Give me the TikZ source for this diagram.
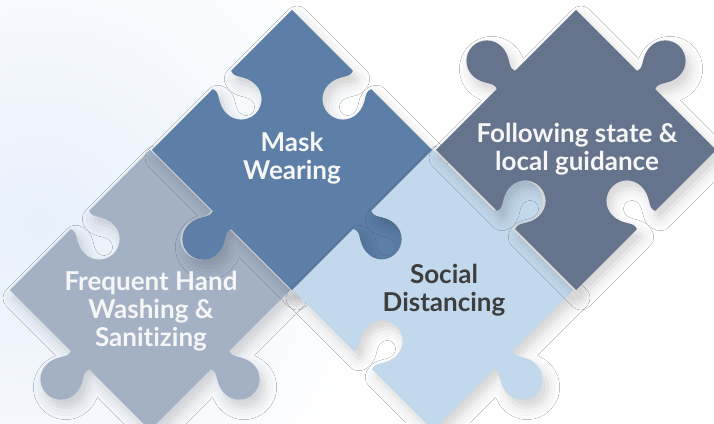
\documentclass[tikz,border=0pt]{standalone}
\usepackage{fontspec}
\setmainfont{Lato}[Ligatures=NoCommon]
\usetikzlibrary{shadows.blur}
\definecolor{handC}{RGB}{164,177,197}
\definecolor{maskC}{RGB}{92,126,167}
\definecolor{socialC}{RGB}{194,216,236}
\definecolor{guideC}{RGB}{101,116,140}
\definecolor{lightT}{RGB}{246,246,246}
\definecolor{darkT}{RGB}{62,62,62}
\definecolor{bgC}{RGB}{232,240,250}

% half side, neck half width, knob radius, knob offset (pt)
\newcommand{\pzH}{99}
\newcommand{\pzW}{13}
\newcommand{\pzR}{20.5}
\newcommand{\pzD}{27}
% #1 top, #2 right, #3 bottom, #4 left: 1 = tab, -1 = blank
\newcommand{\piecepath}[4]{(-\pzH,\pzH)
	-- (-\pzW,\pzH) .. controls ({-\pzW+4},{\pzH+(#1)*8}) and (-\pzR,{\pzH+(#1)*(\pzD-15)}) .. (-\pzR,{\pzH+(#1)*\pzD})
	arc[start angle=180, end angle={180-(#1)*180}, radius=\pzR]
	.. controls (\pzR,{\pzH+(#1)*(\pzD-15)}) and ({\pzW-4},{\pzH+(#1)*8}) .. (\pzW,\pzH) -- (\pzH,\pzH)
	-- (\pzH,\pzW) .. controls ({\pzH+(#2)*8},{\pzW-4}) and ({\pzH+(#2)*(\pzD-15)},\pzR) .. ({\pzH+(#2)*\pzD},\pzR)
	arc[start angle=90, end angle={90-(#2)*180}, radius=\pzR]
	.. controls ({\pzH+(#2)*(\pzD-15)},-\pzR) and ({\pzH+(#2)*8},{-\pzW+4}) .. (\pzH,-\pzW) -- (\pzH,-\pzH)
	-- (\pzW,-\pzH) .. controls ({\pzW-4},{-\pzH-(#3)*8}) and (\pzR,{-\pzH-(#3)*(\pzD-15)}) .. (\pzR,{-\pzH-(#3)*\pzD})
	arc[start angle=0, end angle={-(#3)*180}, radius=\pzR]
	.. controls (-\pzR,{-\pzH-(#3)*(\pzD-15)}) and ({-\pzW+4},{-\pzH-(#3)*8}) .. (-\pzW,-\pzH) -- (-\pzH,-\pzH)
	-- (-\pzH,-\pzW) .. controls ({-\pzH-(#4)*8},{-\pzW+4}) and ({-\pzH-(#4)*(\pzD-15)},-\pzR) .. ({-\pzH-(#4)*\pzD},-\pzR)
	arc[start angle=270, end angle={270-(#4)*180}, radius=\pzR]
	.. controls ({-\pzH-(#4)*(\pzD-15)},\pzR) and ({-\pzH-(#4)*8},{\pzW-4}) .. (-\pzH,\pzW) -- cycle}

\tikzset{
	piece/.style={blur shadow={shadow xshift=5pt, shadow yshift=-8pt,
			shadow blur radius=12pt, shadow opacity=18}},
	caption/.style={align=center, font=\fontsize{26}{28}\selectfont\bfseries},
}

\begin{document}
\begin{tikzpicture}[x=1pt, y=1pt]
	
	% =============== BACKGROUND ===============
	\useasboundingbox (0,0) rectangle (714,423);
	\fill[white] (0,0) rectangle (714,423);
	\begin{scope}
		\clip (0,0) rectangle (714,423);
		\shade[inner color=bgC, outer color=white] (40,200) circle (360);
	\end{scope}
	
	% =============== PIECES ===============
	\begin{scope}[shift={(150,133)}, rotate=45]
		\fill[handC, piece] \piecepath{-1}{-1}{1}{1};
	\end{scope}
	\begin{scope}[shift={(292,273)}, rotate=45]
		\fill[maskC, piece] \piecepath{-1}{-1}{1}{1};
	\end{scope}
	\begin{scope}[shift={(433,133)}, rotate=45]
		\fill[socialC, piece] \piecepath{-1}{1}{1}{-1};
	\end{scope}
	\begin{scope}[shift={(576,273)}, rotate=45]
		\fill[guideC, piece] \piecepath{1}{1}{-1}{-1};
	\end{scope}
	
	% =============== LABELS ===============
	\node[caption, text=lightT] (handT) at (151,112) {Frequent Hand\\Washing \&\\Sanitizing};
	\node[caption, text=lightT] (maskT) at (292,265) {Mask\\Wearing};
	\node[caption, text=darkT] (socialT) at (444,133) {Social\\Distancing};
	\node[caption, text=lightT] (guideT) at (577,274) {Following state \&\\local guidance};
	
\end{tikzpicture}
\end{document}
